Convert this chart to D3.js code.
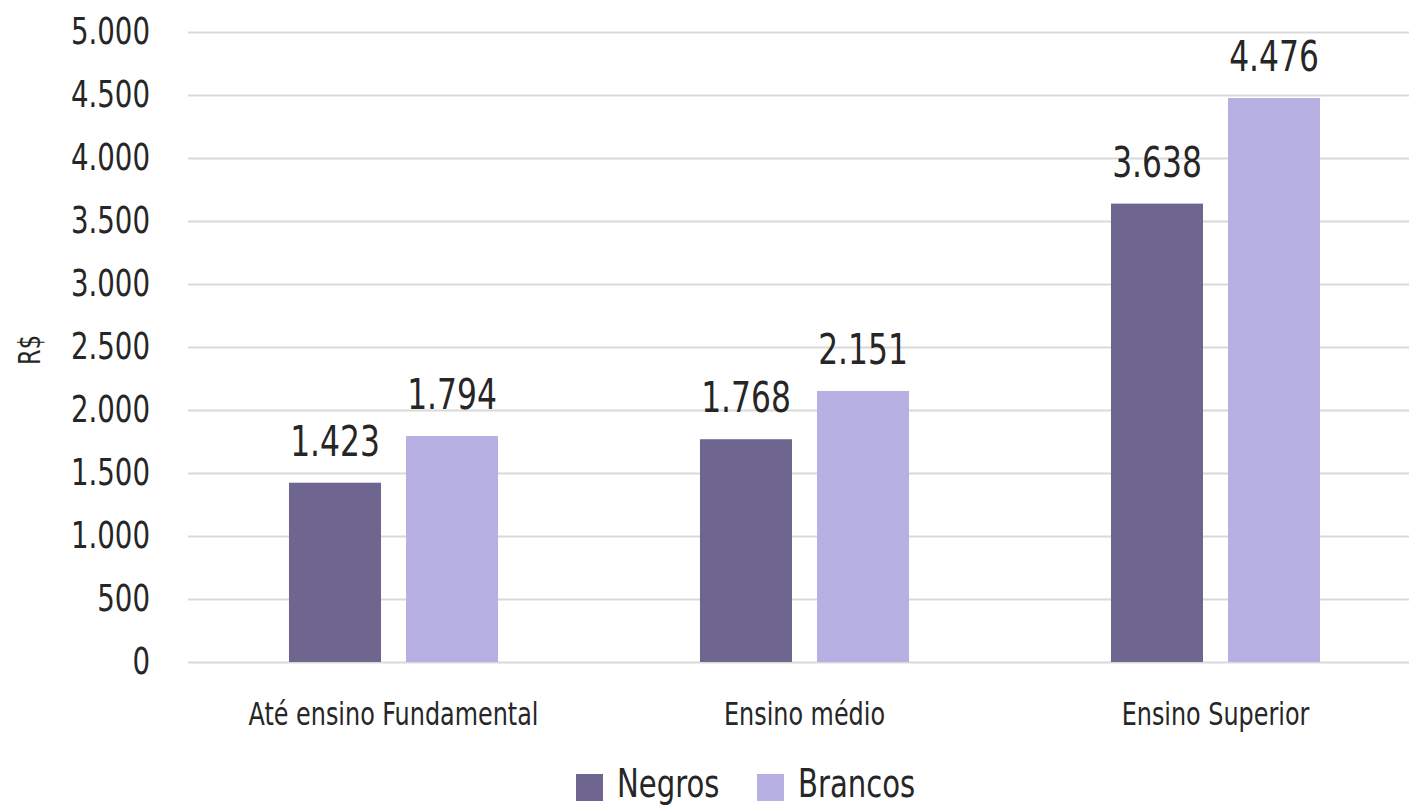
<!DOCTYPE html>
<html>
<head>
<meta charset="utf-8">
<script src="https://cdnjs.cloudflare.com/ajax/libs/d3/7.8.5/d3.min.js"></script>
<style>
    body { margin: 0; background: #fff; }
    svg { display: block; }
    text { font-family: "Liberation Sans Narrow", "DejaVu Sans Condensed", sans-serif; fill: #262626; }
</style>
</head>
<body>
<div id="chart"></div>
<script>
var categories = ["Até ensino Fundamental", "Ensino médio", "Ensino Superior"];
var series = ["Negros", "Brancos"];
var negros = [1423, 1768, 3638];
var brancos = [1794, 2151, 4476];
var yTicks = [0, 500, 1000, 1500, 2000, 2500, 3000, 3500, 4000, 4500, 5000];
var colors = ["#6f6690", "#b7b0e3"];

var width = 1409,
    height = 806;
var squeeze = 0.83; // the font on hand is wider than the original one

var svg = d3.select("#chart").append("svg")
    .attr("width", width)
    .attr("height", height);

var x = d3.scaleBand()
    .domain(categories)
    .range([188, 1421]);

// inner band for the two bars of each group
var x1 = d3.scaleBand()
    .domain(series)
    .range([x.bandwidth() * 0.2457, x.bandwidth() * 0.7543])
    .paddingInner(0.2137);

var y = d3.scaleLinear()
    .domain([0, 5000])
    .range([662, 32]);

var fmt = function(v) { return d3.format(",")(v).replace(/,/g, "."); };

// place a text at (px, py) and narrow it
function placeText(sel, px, py) {
    sel.attr("x", 0).attr("y", 0)
        .attr("transform", function(d, i) {
            var a = typeof px === "function" ? px(d, i) : px;
            var b = typeof py === "function" ? py(d, i) : py;
            return "translate(" + a + "," + b + ") scale(" + squeeze + ",1)";
        });
}

// gridlines
svg.append("g")
    .selectAll("line")
    .data(yTicks)
    .enter().append("line")
    .attr("x1", 188)
    .attr("x2", width)
    .attr("y1", function(d) { return Math.round(y(d)) + 0.5; })
    .attr("y2", function(d) { return Math.round(y(d)) + 0.5; })
    .attr("stroke", "#d9d9d9")
    .attr("stroke-width", 2);

// y axis labels
var yAxis = d3.axisLeft(y).tickValues(yTicks).tickSize(0).tickPadding(0).tickFormat(fmt);
var ya = svg.append("g")
    .attr("transform", "translate(150,0)")
    .call(yAxis);
ya.select(".domain").remove();
ya.selectAll("text")
    .attr("dy", null)
    .style("font-size", "37px")
    .style("fill", "#262626")
    .style("font-family", null)
    .call(placeText, 0, 11);

svg.append("text")
    .attr("transform", "translate(40,350) rotate(-90) scale(" + squeeze + ",1)")
    .attr("text-anchor", "middle")
    .style("font-size", "30px")
    .text("R$");

var rows = categories.map(function(c, i) {
    return { cat: c, values: [negros[i], brancos[i]] };
});

var groups = svg.append("g")
    .selectAll("g")
    .data(rows)
    .enter().append("g")
    .attr("transform", function(d) { return "translate(" + x(d.cat) + ",0)"; });

groups.selectAll("rect")
    .data(function(d) { return d.values.map(function(v, j) { return { s: series[j], v: v, j: j }; }); })
    .enter().append("rect")
    .attr("x", function(d) { return x1(d.s); })
    .attr("width", x1.bandwidth())
    .attr("y", function(d) { return y(d.v); })
    .attr("height", function(d) { return y(0) - y(d.v); })
    .attr("fill", function(d) { return colors[d.j]; });

groups.selectAll(".lbl")
    .data(function(d) { return d.values.map(function(v, j) { return { s: series[j], v: v }; }); })
    .enter().append("text")
    .attr("class", "lbl")
    .attr("text-anchor", "middle")
    .style("font-size", "42px")
    .text(function(d) { return fmt(d.v); })
    .call(placeText,
        function(d) { return x1(d.s) + x1.bandwidth() / 2; },
        function(d) { return y(d.v) - 27; });

// x axis labels
var xAxis = d3.axisBottom(x).tickSize(0).tickPadding(0);
var xa = svg.append("g")
    .attr("transform", "translate(0,662)")
    .call(xAxis);
xa.select(".domain").remove();
xa.selectAll("text")
    .attr("dy", null)
    .style("font-size", "32px")
    .style("fill", "#262626")
    .style("font-family", null)
    .call(placeText, 0, 63);

// legend
var legend = svg.append("g");
var lx = [576, 757];
series.forEach(function(s, j) {
    legend.append("rect")
        .attr("x", lx[j])
        .attr("y", 774)
        .attr("width", 27)
        .attr("height", 27)
        .attr("fill", colors[j]);
    legend.append("text")
        .style("font-size", "39px")
        .text(s)
        .call(placeText, lx[j] + 41, 797);
});
</script>
</body>
</html>
